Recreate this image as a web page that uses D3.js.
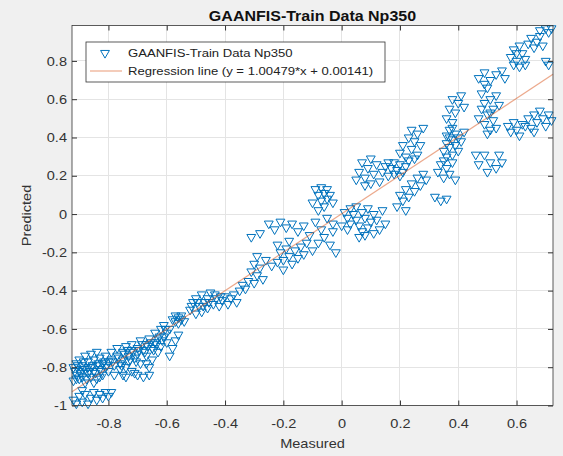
<!DOCTYPE html>
<html>
<head>
<meta charset="utf-8">
<script src="https://cdn.jsdelivr.net/npm/d3@7"></script>
<style>
  body { margin: 0; background: #f0f0f0; }
  text { font-family: "Liberation Sans", Arial, sans-serif; }
</style>
</head>
<body>
<div id="chart"></div>
<script>
// Chart data
const chartTitle = "GAANFIS-Train Data Np350";
const seriesLabel = "GAANFIS-Train Data Np350";
const regressionLabel = "Regression line (y = 1.00479*x + 0.00141)";
const xLabel = "Measured";
const yLabel = "Predicted";
const regSlope = 1.00479;
const regIntercept = 0.00141;

const xDomain = [-0.925, 0.725];
const yDomain = [-1, 0.985];
const xTickValues = [-0.8, -0.6, -0.4, -0.2, 0, 0.2, 0.4, 0.6];
const yTickValues = [-1, -0.8, -0.6, -0.4, -0.2, 0, 0.2, 0.4, 0.6, 0.8];

// [measured, predicted]
const lowCluster = [
  [-0.92,-0.80],[-0.91,-0.84],[-0.91,-0.78],[-0.90,-0.86],[-0.90,-0.82],[-0.89,-0.79],[-0.89,-0.85],
  [-0.88,-0.81],[-0.88,-0.88],[-0.87,-0.83],[-0.87,-0.77],[-0.86,-0.80],[-0.86,-0.85],[-0.85,-0.82],
  [-0.85,-0.76],[-0.84,-0.79],[-0.84,-0.86],[-0.83,-0.81],[-0.83,-0.75],[-0.82,-0.78],[-0.82,-0.84],
  [-0.92,-0.87],[-0.90,-0.76],[-0.88,-0.74],[-0.86,-0.73],[-0.85,-0.88],[-0.84,-0.72],[-0.81,-0.80],
  [-0.81,-0.74],[-0.80,-0.77],
  [-0.915,-0.82],[-0.905,-0.79],[-0.895,-0.83],[-0.885,-0.77],[-0.875,-0.86],[-0.865,-0.82],
  [-0.855,-0.79],[-0.845,-0.83],[-0.835,-0.78],[-0.825,-0.82],[-0.815,-0.77],[-0.805,-0.79],
  [-0.87,-0.80],[-0.89,-0.81],[-0.91,-0.86],[-0.83,-0.85]
];
const bottomBand = [
  [-0.92,-0.97],[-0.91,-0.99],[-0.90,-0.95],[-0.89,-0.98],[-0.88,-0.94],[-0.87,-0.99],[-0.86,-0.96],
  [-0.85,-0.93],[-0.84,-0.97],[-0.83,-0.94],[-0.82,-0.96],[-0.81,-0.93],[-0.80,-0.95],[-0.79,-0.93],
  [-0.89,-0.92]
];
const lowerBand = [
  [-0.80,-0.82],[-0.79,-0.76],[-0.79,-0.72],[-0.78,-0.79],[-0.78,-0.84],[-0.77,-0.74],[-0.77,-0.70],
  [-0.76,-0.78],[-0.76,-0.81],[-0.75,-0.72],[-0.75,-0.76],[-0.74,-0.69],[-0.74,-0.80],[-0.73,-0.74],
  [-0.73,-0.77],[-0.72,-0.71],[-0.72,-0.68],[-0.71,-0.75],[-0.71,-0.83],[-0.70,-0.70],[-0.70,-0.73],
  [-0.69,-0.66],[-0.69,-0.78],[-0.68,-0.71],[-0.68,-0.85],[-0.67,-0.68],[-0.67,-0.74],[-0.66,-0.65],
  [-0.66,-0.80],[-0.65,-0.70],[-0.65,-0.76],[-0.64,-0.67],[-0.64,-0.62],[-0.63,-0.72],[-0.63,-0.65],
  [-0.62,-0.60],[-0.62,-0.69],[-0.61,-0.64],[-0.61,-0.58],[-0.60,-0.62],[-0.60,-0.67],[-0.59,-0.60],
  [-0.70,-0.84],[-0.72,-0.82],[-0.67,-0.78],[-0.75,-0.84],[-0.74,-0.85],[-0.66,-0.84],
  [-0.58,-0.70],[-0.57,-0.66],[-0.59,-0.74],[-0.56,-0.63],
  [-0.785,-0.77],[-0.765,-0.75],[-0.755,-0.79],[-0.745,-0.73],[-0.735,-0.71],[-0.725,-0.76],
  [-0.715,-0.72],[-0.705,-0.77],[-0.695,-0.71],[-0.685,-0.68],[-0.675,-0.72],[-0.665,-0.69],
  [-0.655,-0.67],[-0.645,-0.71],[-0.635,-0.68],[-0.625,-0.64],[-0.615,-0.66],[-0.605,-0.60]
];
const midLowCluster = [
  [-0.58,-0.55],[-0.57,-0.53],[-0.57,-0.56],[-0.56,-0.54],[-0.56,-0.57],[-0.55,-0.55],[-0.55,-0.53],
  [-0.54,-0.56],
  [-0.52,-0.50],[-0.51,-0.46],[-0.50,-0.52],[-0.50,-0.44],[-0.49,-0.48],[-0.48,-0.42],[-0.48,-0.51],
  [-0.47,-0.46],[-0.46,-0.44],[-0.46,-0.49],[-0.45,-0.41],[-0.44,-0.47],[-0.43,-0.44],[-0.42,-0.48],
  [-0.41,-0.45],[-0.40,-0.43],[-0.39,-0.47],[-0.38,-0.44],[-0.37,-0.42],[-0.36,-0.46],
  [-0.515,-0.48],[-0.495,-0.46],[-0.475,-0.48],[-0.455,-0.46],[-0.435,-0.42],[-0.415,-0.43],
  [-0.35,-0.40],[-0.34,-0.37],[-0.33,-0.39],[-0.32,-0.35],[-0.31,-0.30],[-0.30,-0.36],[-0.30,-0.26],
  [-0.29,-0.32],[-0.29,-0.22],[-0.28,-0.28],[-0.27,-0.34]
];
const midCluster = [
  [-0.31,-0.12],[-0.28,-0.10],[-0.25,-0.05],[-0.23,-0.08],[-0.21,-0.04],[-0.19,-0.07],[-0.17,-0.05],
  [-0.15,-0.09],[-0.13,-0.06],[-0.22,-0.16],[-0.21,-0.20],[-0.20,-0.24],[-0.19,-0.18],[-0.18,-0.22],
  [-0.17,-0.26],[-0.16,-0.19],[-0.15,-0.23],[-0.14,-0.17],[-0.13,-0.21],[-0.12,-0.15],[-0.24,-0.27],
  [-0.22,-0.25],[-0.20,-0.29],[-0.18,-0.14],[-0.26,-0.24],
  [-0.09,0.13],[-0.08,0.10],[-0.07,0.14],[-0.07,0.07],[-0.06,0.11],[-0.05,0.08],[-0.05,0.13],
  [-0.04,0.10],[-0.03,0.06],[-0.06,0.04],[-0.08,0.02],[-0.10,0.06],
  [-0.09,-0.04],[-0.07,-0.08],[-0.06,-0.12],[-0.05,-0.02],[-0.04,-0.16],[-0.03,-0.09],[-0.02,-0.20],
  [-0.08,-0.15],[-0.10,-0.19],[-0.11,-0.11],[-0.03,-0.05]
];
const centerCluster = [
  [0.01,0.01],[0.02,-0.02],[0.03,0.03],[0.03,-0.05],[0.04,0.00],[0.05,-0.03],[0.05,0.04],[0.06,-0.06],
  [0.07,0.01],[0.07,-0.09],[0.08,-0.02],[0.09,0.03],[0.09,-0.07],[0.10,-0.04],[0.11,0.00],[0.11,-0.10],
  [0.12,-0.03],[0.13,-0.08],[0.14,0.02],[0.15,-0.05],[0.06,-0.12],[0.08,-0.11],[0.02,-0.08],[0.00,-0.06],
  [0.05,0.18],[0.06,0.22],[0.07,0.27],[0.08,0.19],[0.09,0.24],[0.10,0.29],[0.11,0.21],[0.12,0.26],
  [0.13,0.17],[0.08,0.15],[0.10,0.16],
  [0.14,0.22],[0.15,0.25],[0.16,0.20],[0.17,0.24],[0.18,0.27],[0.18,0.21],[0.19,0.23],[0.20,0.26],
  [0.21,0.22],[0.22,0.25],[0.23,0.28],[0.16,0.27],[0.20,0.20],
  [0.20,0.32],[0.21,0.36],[0.22,0.30],[0.23,0.40],[0.24,0.34],[0.24,0.44],[0.25,0.38],[0.26,0.31],
  [0.26,0.42],[0.27,0.36],[0.28,0.45],[0.25,0.29],
  [0.19,0.04],[0.20,0.10],[0.21,0.07],[0.22,0.13],[0.23,0.09],[0.24,0.16],[0.25,0.12],[0.26,0.19],
  [0.27,0.15],[0.28,0.21],[0.22,0.02],[0.29,0.18],
  [0.32,0.09],[0.34,0.07],[0.36,0.08]
];
const highCluster = [
  [0.35,0.33],[0.36,0.37],[0.36,0.41],[0.37,0.35],[0.37,0.44],[0.38,0.39],[0.38,0.31],[0.39,0.42],
  [0.39,0.36],[0.40,0.40],[0.40,0.33],[0.41,0.38],[0.42,0.43],[0.36,0.30],[0.38,0.45],[0.37,0.40],
  [0.33,0.22],[0.34,0.26],[0.35,0.19],[0.36,0.24],[0.37,0.21],[0.38,0.27],[0.39,0.18],[0.35,0.28],
  [0.37,0.55],[0.38,0.60],[0.39,0.53],[0.40,0.58],[0.41,0.62],[0.42,0.56],[0.36,0.50],[0.38,0.48],
  [0.46,0.31],[0.47,0.26],[0.49,0.31],[0.50,0.22],[0.51,0.27],[0.53,0.24],[0.54,0.31],[0.55,0.27],
  [0.47,0.50],[0.48,0.55],[0.48,0.63],[0.49,0.47],[0.49,0.58],[0.50,0.52],[0.50,0.66],[0.51,0.44],
  [0.51,0.60],[0.52,0.55],[0.52,0.49],[0.53,0.62],[0.53,0.45],[0.54,0.57],[0.50,0.42],[0.49,0.68],
  [0.51,0.53],
  [0.47,0.71],[0.49,0.74],[0.51,0.70],[0.53,0.73],[0.55,0.75],[0.56,0.71]
];
const topCluster = [
  [0.58,0.82],[0.59,0.86],[0.60,0.80],[0.61,0.88],[0.62,0.84],[0.63,0.81],[0.60,0.84],
  [0.59,0.78],[0.61,0.77],[0.63,0.78],
  [0.64,0.89],[0.65,0.92],[0.66,0.87],[0.67,0.90],[0.68,0.93],[0.69,0.88],
  [0.68,0.96],[0.70,0.97],[0.71,0.95],[0.72,0.97],
  [0.70,0.80],[0.71,0.78],
  [0.57,0.46],[0.58,0.43],[0.59,0.48],[0.60,0.44],[0.61,0.41],[0.62,0.47],[0.64,0.50],[0.65,0.45],
  [0.66,0.52],[0.67,0.48],[0.68,0.54],[0.69,0.50],[0.70,0.46],[0.71,0.52],[0.72,0.49],[0.66,0.43],
  [0.63,0.46]
];

const trainPoints = [].concat(lowCluster, bottomBand, lowerBand, midLowCluster,
  midCluster, centerCluster, highCluster, topCluster);

function drawChart() {
  const width = 563, height = 456;
  const plot = { left: 72, right: 553, top: 25.5, bottom: 405.5 };
  const stretchX = 1.12;
  const axisColor = "#333";
  const fontSize = 13;

  // horizontal widening of text, around the text's x anchor
  function stretch(sel) {
    sel.each(function() {
      const t = d3.select(this);
      const x = +t.attr("x") || 0;
      t.attr("transform", `translate(${x},0) scale(${stretchX},1) translate(${-x},0)`);
    });
  }

  const svg = d3.select("#chart").append("svg")
    .attr("width", width)
    .attr("height", height);

  svg.append("rect")
    .attr("width", width)
    .attr("height", height)
    .attr("fill", "#f0f0f0");

  const xScale = d3.scaleLinear().domain(xDomain).range([plot.left, plot.right]);
  const yScale = d3.scaleLinear().domain(yDomain).range([plot.bottom, plot.top]);

  // axes background
  svg.append("rect")
    .attr("x", plot.left)
    .attr("y", plot.top)
    .attr("width", plot.right - plot.left)
    .attr("height", plot.bottom - plot.top)
    .attr("fill", "#ffffff");

  // grid
  const grid = svg.append("g")
    .attr("stroke", "#e4e4e4")
    .attr("stroke-width", 1)
    .attr("shape-rendering", "crispEdges");
  grid.selectAll(".gx").data(xTickValues).join("line")
    .attr("class", "gx")
    .attr("x1", d => xScale(d)).attr("x2", d => xScale(d))
    .attr("y1", plot.top).attr("y2", plot.bottom);
  grid.selectAll(".gy").data(yTickValues).join("line")
    .attr("class", "gy")
    .attr("x1", plot.left).attr("x2", plot.right)
    .attr("y1", d => yScale(d)).attr("y2", d => yScale(d));

  // scatter points (downward triangles)
  const triangle = d3.symbol().type(d3.symbolTriangle).size(34);
  svg.append("g")
    .selectAll("path")
    .data(trainPoints)
    .join("path")
    .attr("d", triangle)
    .attr("transform", d => `translate(${xScale(d[0])},${yScale(d[1])}) rotate(180)`)
    .attr("fill", "none")
    .attr("stroke", "#0072BD")
    .attr("stroke-width", 1);

  // regression line
  const regLine = d3.line()
    .x(d => xScale(d))
    .y(d => yScale(regSlope * d + regIntercept));
  svg.append("path")
    .attr("d", regLine(xDomain))
    .attr("fill", "none")
    .attr("stroke", "#D95319")
    .attr("stroke-opacity", 0.5)
    .attr("stroke-width", 1.2);

  // axes
  const fmt = d => String(d);
  const xAxis = svg.append("g")
    .attr("transform", `translate(0,${plot.bottom})`)
    .call(d3.axisBottom(xScale).tickValues(xTickValues).tickFormat(fmt)
      .tickSizeInner(-5).tickSizeOuter(0).tickPadding(13));
  const yAxis = svg.append("g")
    .attr("transform", `translate(${plot.left},0)`)
    .call(d3.axisLeft(yScale).tickValues(yTickValues).tickFormat(fmt)
      .tickSizeInner(-5).tickSizeOuter(0).tickPadding(5));
  const xAxisTop = svg.append("g")
    .attr("transform", `translate(0,${plot.top})`)
    .call(d3.axisTop(xScale).tickValues(xTickValues).tickFormat("")
      .tickSizeInner(-5).tickSizeOuter(0));
  const yAxisRight = svg.append("g")
    .attr("transform", `translate(${plot.right},0)`)
    .call(d3.axisRight(yScale).tickValues(yTickValues).tickFormat("")
      .tickSizeInner(-5).tickSizeOuter(0));

  [xAxis, yAxis, xAxisTop, yAxisRight].forEach(ax => {
    ax.select(".domain").remove();
    ax.selectAll("line").attr("stroke", axisColor);
    ax.attr("font-family", null).attr("font-size", fontSize);
    ax.selectAll("text").attr("fill", axisColor);
  });
  stretch(xAxis.selectAll("text"));
  stretch(yAxis.selectAll("text"));

  // axes box
  svg.append("rect")
    .attr("x", plot.left)
    .attr("y", plot.top)
    .attr("width", plot.right - plot.left)
    .attr("height", plot.bottom - plot.top)
    .attr("fill", "none")
    .attr("stroke", axisColor)
    .attr("stroke-width", 0.8);

  // title and axis labels
  svg.append("text")
    .attr("x", (plot.left + plot.right) / 2)
    .attr("y", 21.5)
    .attr("text-anchor", "middle")
    .attr("font-weight", "bold")
    .attr("font-size", fontSize * 1.1)
    .attr("fill", "#111")
    .text(chartTitle)
    .call(stretch);

  svg.append("text")
    .attr("x", (plot.left + plot.right) / 2)
    .attr("y", 448)
    .attr("text-anchor", "middle")
    .attr("font-size", fontSize)
    .attr("fill", axisColor)
    .text(xLabel)
    .call(stretch);

  svg.append("text")
    .attr("transform", `translate(31,${(plot.top + plot.bottom) / 2}) rotate(-90) scale(${stretchX},1)`)
    .attr("text-anchor", "middle")
    .attr("font-size", fontSize)
    .attr("fill", axisColor)
    .text(yLabel);

  // legend
  const legend = svg.append("g");
  legend.append("rect")
    .attr("x", 86)
    .attr("y", 42)
    .attr("width", 299)
    .attr("height", 40)
    .attr("fill", "#ffffff")
    .attr("stroke", axisColor)
    .attr("stroke-width", 0.8);

  legend.append("path")
    .attr("d", triangle)
    .attr("transform", "translate(105,53) rotate(180)")
    .attr("fill", "none")
    .attr("stroke", "#0072BD")
    .attr("stroke-width", 1);

  legend.append("line")
    .attr("x1", 90).attr("x2", 122)
    .attr("y1", 71).attr("y2", 71)
    .attr("stroke", "#D95319")
    .attr("stroke-opacity", 0.5)
    .attr("stroke-width", 1.2);

  const legendItems = [seriesLabel, regressionLabel];
  legend.selectAll(".legend-text")
    .data(legendItems)
    .join("text")
    .attr("class", "legend-text")
    .attr("x", 128)
    .attr("y", (d, i) => 53 + i * 18)
    .attr("dy", "0.35em")
    .attr("font-size", fontSize * 0.9)
    .attr("fill", "#222")
    .text(d => d)
    .call(stretch);
}

drawChart();
</script>
</body>
</html>
